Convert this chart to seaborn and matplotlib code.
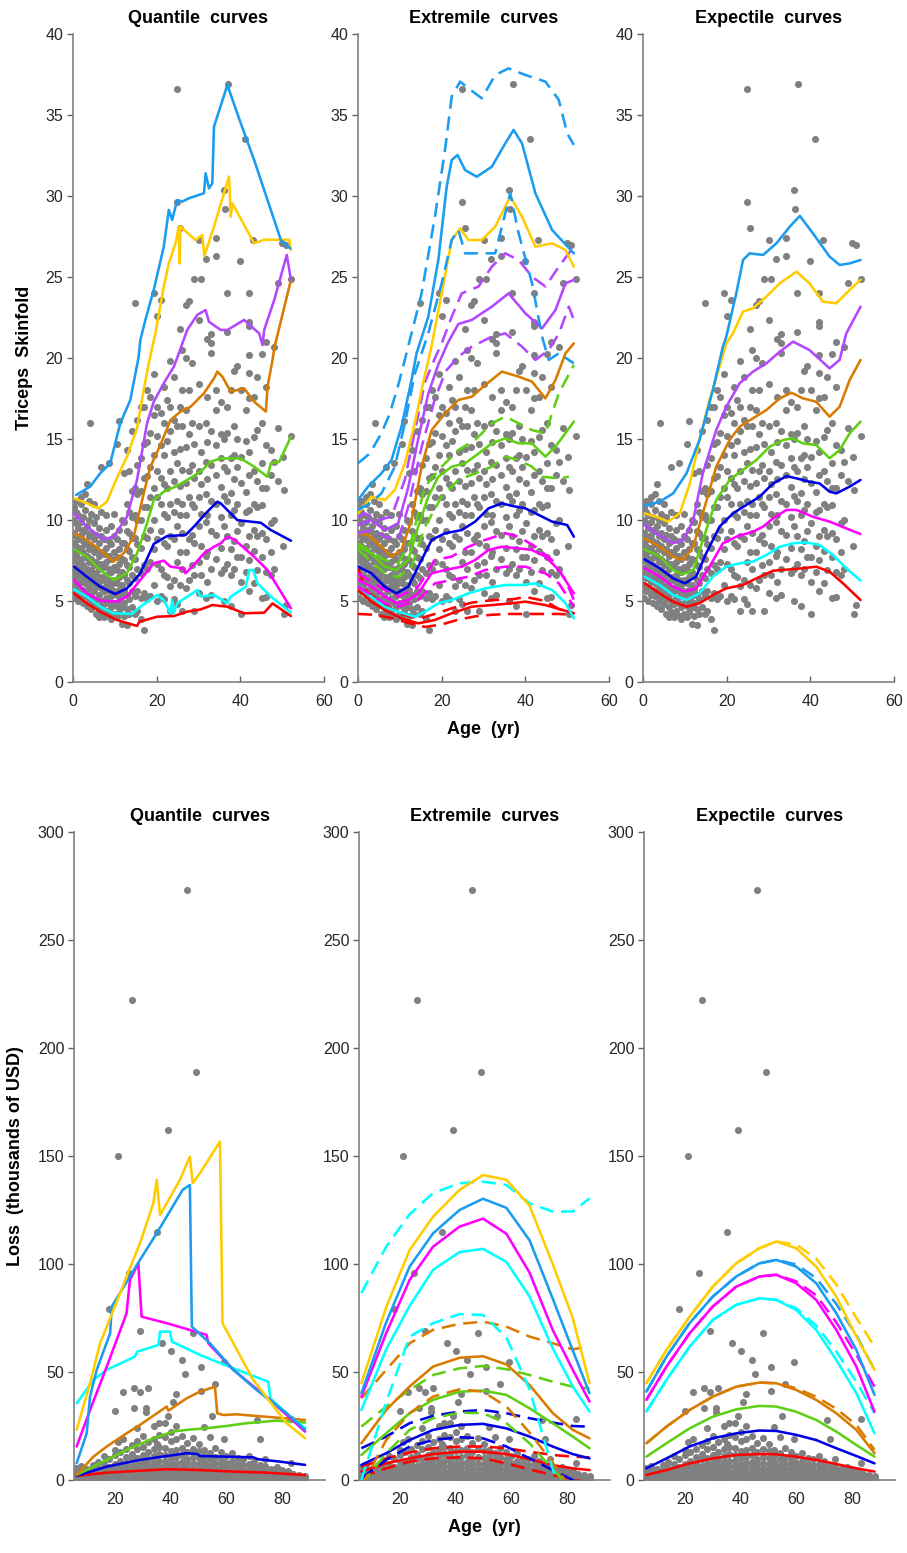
import numpy as np
import pandas as pd
import seaborn as sns
import matplotlib.pyplot as plt

# ---------------- scatter data ----------------
# triceps skinfold: one age per group, several skinfold values per age
tri_ages = [0.3, 0.8, 1.3, 1.8, 2.3, 2.8, 3.3, 3.8, 4.1, 4.4, 5.0, 5.6, 6.2, 6.8, 7.4, 8.0,
            8.6, 9.2, 9.8, 10.4, 11.0, 11.6, 12.2, 12.8, 13.4, 14.0, 14.8, 15.4, 16.2, 16.9,
            17.7, 18.5, 19.3, 20.1, 21.1, 21.7, 22.5, 23.3, 24.1, 24.9, 25.5, 26.1, 27.1,
            27.7, 28.5, 29.0, 30.1, 30.7, 31.7, 32.1, 33.0, 34.1, 35.3, 36.1, 36.3, 36.9,
            37.0, 37.7, 38.5, 39.3, 39.9, 40.1, 41.0, 41.3, 42.1, 43.0, 43.3, 44.1, 45.1,
            46.1, 47.3, 48.1, 48.9, 49.0, 49.9, 50.1, 50.5, 50.9, 52.1]
tri_skin = [
    [5.2, 6.0, 6.8, 7.5, 8.0, 8.6, 9.2, 10.0, 10.8],
    [5.6, 6.4, 7.1, 7.8, 8.4, 9.0, 9.8, 10.5, 11.2],
    [5.0, 5.9, 6.6, 7.3, 8.1, 8.8, 9.5, 10.3],
    [5.4, 6.2, 7.0, 7.6, 8.3, 9.1, 9.9, 11.0, 11.4],
    [4.9, 5.7, 6.5, 7.2, 8.0, 8.7, 9.4, 10.2],
    [5.3, 6.1, 6.9, 7.7, 8.5, 9.3, 10.6, 11.6],
    [4.7, 5.5, 6.3, 7.0, 7.8, 8.6, 9.6, 12.2],
    [5.0, 5.8, 6.6, 7.4, 8.2, 9.0, 10.0, 11.2],
    [16.0],
    [4.5, 5.3, 6.1, 6.9, 7.6, 8.4, 9.2, 10.4],
    [4.8, 5.6, 6.4, 7.2, 8.0, 8.8, 9.8, 11.0],
    [4.2, 5.1, 5.9, 6.7, 7.4, 8.2, 9.1, 10.2],
    [4.0, 4.6, 5.4, 6.2, 7.0, 7.8, 8.6, 9.5],
    [4.3, 5.0, 5.8, 6.5, 7.3, 8.0, 9.0, 10.5, 13.3],
    [4.0, 4.8, 5.6, 6.3, 7.1, 7.9, 8.8],
    [4.4, 5.2, 5.9, 6.6, 7.4, 8.3, 9.4, 10.3],
    [4.1, 4.9, 5.6, 6.3, 7.0, 7.8, 8.7, 13.5],
    [3.9, 4.6, 5.3, 6.0, 6.8, 7.6, 8.5, 9.6],
    [4.2, 4.9, 5.6, 6.3, 7.1, 8.0, 9.0, 10.4],
    [4.0, 4.7, 5.4, 6.1, 6.9, 7.7, 8.8, 14.7],
    [4.3, 5.0, 5.7, 6.5, 7.3, 8.2, 9.4, 16.1],
    [3.6, 4.6, 5.3, 6.0, 6.8, 7.6, 8.6, 10.0],
    [4.1, 4.9, 5.7, 6.6, 7.5, 8.6, 9.9, 12.9],
    [3.5, 4.5, 5.4, 6.3, 7.2, 8.2, 9.3, 11.0, 14.3],
    [4.2, 5.1, 6.1, 7.1, 8.1, 9.2, 10.5, 13.0],
    [4.6, 5.6, 6.6, 7.7, 8.9, 10.2, 11.8, 15.5],
    [4.2, 5.3, 6.4, 7.6, 8.9, 10.3, 12.0, 23.4],
    [4.4, 5.6, 7.0, 8.5, 10.0, 11.6, 13.4, 16.2],
    [3.9, 5.2, 6.7, 8.3, 10.0, 11.8, 13.8, 17.0],
    [3.2, 5.5, 7.2, 9.0, 10.8, 12.6, 14.7, 17.0],
    [5.1, 7.0, 8.9, 10.8, 12.7, 14.8, 18.0],
    [5.3, 7.4, 9.4, 11.4, 13.3, 15.4, 17.6],
    [6.0, 8.2, 10.0, 12.0, 14.0, 16.5, 19.0, 24.0],
    [5.0, 7.3, 8.8, 11.4, 13.0, 15.2, 17.0, 22.6],
    [5.3, 7.0, 9.3, 11.0, 12.6, 14.6, 16.6, 23.6],
    [5.1, 6.6, 8.6, 10.4, 12.2, 14.0, 16.0, 18.2],
    [6.5, 8.4, 10.2, 12.0, 14.9, 17.4],
    [4.4, 5.9, 9.0, 11.0, 13.0, 15.5, 19.8, 17.0],
    [5.1, 6.3, 8.8, 10.5, 12.4, 14.2, 16.2, 18.8],
    [4.8, 7.4, 9.6, 11.2, 13.5, 15.8, 29.6, 36.6],
    [6.0, 8.0, 10.3, 12.1, 14.4, 17.0, 28.0, 21.8],
    [4.4, 7.0, 9.2, 11.0, 13.1, 15.8, 20.5, 18.0],
    [5.8, 8.0, 10.3, 12.3, 14.5, 16.8, 23.3, 20.0],
    [6.3, 8.8, 11.4, 13.0, 15.3, 18.0, 23.5],
    [7.2, 9.1, 11.0, 13.4, 16.0, 19.7],
    [4.4, 6.6, 8.6, 10.8, 12.6, 14.7, 24.85],
    [5.5, 7.4, 9.6, 11.4, 13.0, 15.8, 18.4, 27.3, 22.35],
    [6.6, 8.4, 10.4, 12.2, 14.2, 24.85],
    [5.2, 7.8, 9.9, 11.6, 13.6, 16.0, 26.1],
    [6.2, 8.0, 10.3, 12.5, 14.8, 17.6, 21.2],
    [5.4, 7.0, 9.3, 11.2, 13.4, 15.5, 20.9, 21.5, 20.3],
    [7.6, 9.1, 11.0, 12.8, 14.6, 16.8, 18.0, 27.4, 26.3],
    [6.7, 8.3, 10.2, 12.05, 13.8, 15.3, 17.3],
    [5.0, 7.0, 9.6, 11.5, 13.3, 15.0, 30.4],
    [29.2],
    [7.3, 9.0, 11.2, 13.0, 15.35, 17.0, 21.6, 24.0],
    [36.9],
    [4.7, 6.6, 8.2, 10.3, 11.65, 13.8, 18.0],
    [7.0, 8.7, 10.6, 12.5, 14.0, 15.8, 19.2],
    [7.7, 9.3, 11.0, 13.3, 15.0, 19.5],
    [26.0],
    [4.2, 6.2, 7.7, 9.8, 12.27, 13.9, 18.0],
    [33.5],
    [6.8, 8.4, 10.5, 11.7, 14.9, 16.8],
    [5.6, 7.5, 9.0, 10.6, 12.8, 14.2, 17.5, 19.05, 20.2, 22.0, 22.2, 24.0],
    [27.3],
    [6.1, 8.1, 9.4, 11.0, 13.0, 15.1, 17.6],
    [6.9, 9.0, 10.8, 12.4, 15.55, 18.8],
    [5.2, 7.7, 9.2, 10.9, 12.0, 13.5, 16.0, 20.25],
    [5.26, 6.8, 8.8, 11.96, 14.6, 18.2, 21.0],
    [6.6, 8.0, 9.8, 12.8, 14.3],
    [7.0, 10.0, 13.6, 20.7],
    [12.4, 15.7],
    [24.65],
    [27.1],
    [8.4, 13.9],
    [4.2, 11.85],
    [4.75, 27.0],
    [15.2, 24.85],
]

# insurance loss (thousands of USD): one age per group, several losses per age
loss_ages = [6, 8, 10, 12, 14, 16, 18, 20, 21, 22, 23, 24, 25, 26, 27, 28, 29, 30, 31, 32,
             34, 35, 36, 37, 38, 39, 40, 41, 42, 44, 45, 46, 48, 49, 50, 51, 52, 54, 55, 56,
             58, 59, 60, 62, 64, 66, 68, 70, 71, 72, 74, 76, 78, 80, 82, 83, 84, 86, 88]
loss_vals = [
    [0.5, 1.5, 3.0, 5.5],
    [0.3, 1.2, 2.5, 4.0, 6.5],
    [0.4, 1.8, 3.5, 5.0],
    [0.6, 1.4, 2.8, 4.5, 7.0],
    [0.2, 1.0, 2.2, 3.8, 5.5, 8.5],
    [0.5, 1.6, 3.0, 4.8, 7.2, 11.0],
    [0.3, 1.3, 2.6, 4.2, 6.0, 9.5, 79.0],
    [0.6, 1.8, 3.4, 5.2, 7.5, 11.5, 14.0, 32.0],
    [150.0, 17.5],
    [0.4, 1.5, 2.9, 4.6, 6.8, 9.0, 13.0],
    [40.6, 19.0],
    [0.7, 2.0, 3.6, 5.5, 8.0, 10.5, 14.5],
    [96.0],
    [0.3, 1.2, 2.7, 4.4, 6.5, 9.5, 12.0, 16.0, 222.0],
    [42.4, 33.5],
    [0.5, 1.8, 3.3, 5.0, 7.2, 10.0, 14.5, 18.0, 24.0],
    [68.8, 40.6],
    [0.8, 2.2, 4.0, 6.0, 8.5, 11.5, 15.5, 20.5],
    [33.5, 31.6],
    [0.4, 1.5, 3.0, 4.8, 7.0, 9.5, 13.0, 17.5, 42.4],
    [0.6, 2.0, 3.8, 5.8, 8.2, 11.0, 14.5, 19.0, 25.0],
    [114.8, 16.5],
    [0.3, 1.4, 2.8, 4.5, 6.5, 9.0, 12.0, 15.5, 21.0, 26.5],
    [63.6],
    [0.7, 2.2, 4.2, 6.3, 8.8, 11.8, 15.0, 20.0, 26.5],
    [162.0, 29.8],
    [0.5, 1.6, 3.2, 5.2, 7.5, 10.2, 13.5, 18.0, 59.7, 22.0],
    [36.2],
    [0.4, 1.8, 3.6, 5.5, 8.0, 10.8, 14.0, 19.0, 40.0, 25.0],
    [0.6, 2.0, 3.8, 6.0, 8.5, 11.5, 15.0, 55.7, 20.5],
    [49.0],
    [0.3, 1.5, 3.0, 5.0, 7.2, 9.8, 13.0, 17.0, 273.0],
    [0.5, 1.9, 3.6, 5.6, 8.0, 10.8, 14.5, 68.0, 19.5],
    [189.0],
    [0.4, 1.7, 3.3, 5.2, 7.4, 10.0, 13.5, 16.5],
    [52.5, 41.0],
    [0.6, 2.0, 3.8, 5.8, 8.2, 11.0, 14.0, 24.5],
    [0.3, 1.5, 3.0, 4.8, 7.0, 9.5, 12.5, 20.0],
    [29.8],
    [0.5, 1.8, 3.5, 5.5, 7.8, 10.5, 44.3, 15.0],
    [0.4, 1.6, 3.2, 5.0, 7.2, 9.8, 13.0],
    [54.8, 19.0],
    [0.6, 1.9, 3.6, 5.6, 8.0, 11.0],
    [0.3, 1.4, 2.8, 4.5, 6.5, 9.0, 12.5],
    [0.5, 1.7, 3.3, 5.2, 7.4, 10.0],
    [0.4, 1.5, 3.0, 4.8, 6.8, 9.5],
    [0.6, 1.8, 3.4, 5.3, 7.6, 11.0],
    [0.3, 1.4, 2.8, 4.4, 6.3, 9.0],
    [27.8],
    [0.5, 1.6, 3.1, 4.9, 7.0, 18.8],
    [0.4, 1.5, 2.9, 4.6, 6.5, 9.5],
    [0.6, 1.7, 3.2, 5.0],
    [0.3, 1.3, 2.6, 4.2, 6.0],
    [0.5, 1.6, 3.0, 4.6],
    [0.4, 1.4, 2.7, 4.3],
    [28.2, 8.0],
    [0.6, 1.5, 3.0],
    [0.3, 1.2, 2.5],
    [0.5, 1.8],
]

# ---------------- top row curves: triceps skinfold ----------------
# quantile curves
tq_red_age = [0.24, 3.3, 6.5, 10.5, 15.3, 15.9, 20.1, 24.1, 27.3, 30.5, 33.3, 36.9, 40.9, 45.7, 47.7, 52.1]
tq_red_val = [5.47, 4.85, 4.34, 3.83, 3.46, 3.72, 4.03, 4.07, 4.34, 4.48, 4.75, 4.65, 4.24, 4.28, 4.85, 4.07]
tq_cyan_age = [0.24, 3.3, 6.5, 9.7, 14.1, 16.1, 20.1, 21.7, 23.3, 23.7, 24.1, 24.9, 28.5, 29.7, 30.5,
               33.7, 36.9, 37.7, 41.3, 42.1, 43.1, 44.1, 47.3, 52.1]
tq_cyan_val = [5.72, 5.27, 4.65, 4.24, 4.2, 4.65, 5.37, 5.06, 4.24, 5.06, 4.24, 4.86, 5.47, 5.68, 5.27,
               5.37, 4.86, 5.27, 5.88, 6.91, 6.91, 6.09, 5.27, 4.28]
tq_mag_age = [0.24, 3.3, 6.5, 10.5, 12.9, 16.1, 19.3, 21.7, 23.3, 26.5, 26.9, 28.5, 31.3, 33.7, 35.3,
              36.9, 38.5, 43.3, 46.5, 52.1]
tq_mag_val = [6.3, 5.47, 5.02, 4.96, 5.27, 6.3, 7.32, 7.49, 7.12, 7.0, 6.71, 7.12, 7.94, 8.35, 8.56,
              8.97, 8.81, 7.73, 6.91, 4.55]
tq_blue_age = [0.24, 3.3, 6.5, 10.1, 12.9, 16.1, 19.3, 20.9, 22.5, 26.9, 28.9, 32.1, 34.5, 35.3, 38.5,
               39.3, 44.9, 47.3, 52.1]
tq_blue_val = [7.12, 6.5, 5.88, 5.43, 5.78, 6.71, 8.52, 8.77, 9.01, 9.07, 9.59, 10.51, 11.13, 11.03, 10.2,
               9.99, 9.83, 9.38, 8.72]
tq_green_age = [0.24, 3.3, 6.5, 9.7, 12.9, 15.3, 17.7, 19.3, 21.7, 24.5, 27.3, 30.5, 32.9, 35.3, 40.1,
                43.3, 46.5, 47.3, 49.3, 52.1]
tq_green_val = [8.19, 7.74, 6.91, 6.3, 6.71, 7.94, 9.79, 11.23, 11.75, 12.06, 12.47, 12.98, 13.6, 13.8, 13.8,
                13.29, 12.67, 13.5, 13.6, 15.14]
tq_orange_age = [0.24, 3.3, 6.5, 9.7, 12.1, 14.5, 16.9, 18.5, 20.9, 23.3, 25.7, 28.1, 31.3, 33.7, 34.5,
                 35.7, 37.7, 40.9, 43.3, 46.1, 46.5, 47.7, 48.1, 52.1]
tq_orange_val = [9.18, 8.77, 8.15, 7.43, 7.94, 8.97, 11.64, 13.29, 14.63, 16.17, 16.69, 16.99, 17.82, 18.74, 19.16,
                 18.85, 17.92, 18.13, 17.3, 16.69, 18.23, 19.88, 20.6, 24.82]
tq_purple_age = [0.24, 3.3, 7.3, 9.7, 12.9, 15.3, 17.7, 19.3, 21.7, 24.1, 25.3, 27.3, 29.7, 31.7, 32.5,
                 35.3, 36.9, 40.9, 44.5, 45.3, 45.7, 48.1, 51.1, 52.1]
tq_purple_val = [10.41, 9.59, 8.81, 8.97, 10.2, 12.47, 15.97, 17.3, 18.44, 19.46, 20.29, 21.73, 22.66, 22.96, 22.24,
                 21.73, 21.73, 22.35, 21.52, 20.8, 21.73, 23.58, 26.36, 24.82]
tq_yellow_age = [0.24, 3.3, 6.1, 8.1, 10.1, 12.9, 15.3, 16.9, 18.1, 19.7, 21.7, 22.9, 24.5, 25.3, 25.5,
                 25.7, 29.3, 30.9, 31.4, 33.7, 37.3, 37.7, 38.1, 43.3, 45.7, 51.7, 52.1]
tq_yellow_val = [11.34, 11.03, 10.72, 11.13, 12.36, 13.91, 15.66, 18.02, 19.67, 21.52, 24.4, 25.84, 27.08, 28.11, 25.84,
                 28.11, 27.28, 27.59, 26.3, 28.11, 31.2, 28.73, 29.55, 27.08, 27.3, 27.3, 26.67]
tq_sky_age = [0.72, 4.1, 6.5, 8.9, 11.3, 13.7, 15.7, 16.1, 17.3, 19.3, 21.7, 22.9, 23.7, 24.9, 26.1,
              27.7, 31.3, 31.7, 32.5, 33.3, 33.7, 36.9, 40.1, 43.3, 49.7, 51.9]
tq_sky_val = [11.54, 12.06, 12.88, 13.5, 15.97, 17.41, 20.08, 21.11, 22.35, 24.2, 26.87, 29.14, 28.52, 29.75, 29.65,
              29.86, 30.17, 31.4, 30.47, 30.78, 34.28, 36.85, 34.49, 32.22, 27.28, 26.77]

# extremile curves (solid) and their dashed companions
te_red_age = [0, 3.2, 6.4, 10.4, 14.4, 18.4, 22.4, 27.2, 32.0, 36.8, 40.0, 44.8, 51.6]
te_red_val = [5.68, 4.96, 4.44, 3.93, 3.62, 3.83, 4.24, 4.65, 4.75, 4.86, 4.96, 4.75, 4.24]
te_red_hi_age = [0, 2.0, 6.4, 10.4, 14.4, 18.4, 22.4, 27.2, 32.0, 36.8, 40.0, 44.8, 48.0, 51.6]
te_red_hi_val = [7.0, 5.6, 4.75, 4.2, 3.9, 4.2, 4.55, 4.9, 5.05, 5.1, 5.25, 5.0, 4.5, 4.24]
te_red_lo_age = [0, 4, 8, 12, 16, 20, 24, 28, 32, 36, 40, 44, 48, 51.6]
te_red_lo_val = [4.2, 4.15, 3.95, 3.65, 3.4, 3.55, 3.85, 4.05, 4.15, 4.2, 4.2, 4.2, 4.2, 4.15]
te_cyan_age = [0, 3.2, 6.4, 9.6, 13.6, 16.0, 19.2, 22.4, 26.4, 30.4, 35.2, 39.2, 42.4, 46.4, 49.6, 51.6]
te_cyan_val = [5.88, 5.27, 4.65, 4.34, 4.03, 4.34, 4.86, 5.06, 5.47, 5.78, 5.99, 5.99, 6.09, 5.68, 4.86, 3.93]
te_mag_age = [0, 3.2, 6.4, 9.2, 12.0, 14.4, 17.6, 20.8, 24.8, 28.0, 31.2, 34.4, 38.4, 41.6, 44.8, 48.0, 51.6]
te_mag_val = [6.3, 5.88, 5.27, 4.86, 5.06, 5.47, 6.71, 6.91, 7.12, 7.53, 8.15, 8.35, 8.25, 8.15, 7.74, 6.91, 5.47]
te_mag_hi_age = [0, 6.4, 9.6, 14.4, 18.4, 22.4, 26.4, 30.4, 35.2, 38.4, 42.4, 46.4, 49.6, 51.6]
te_mag_hi_val = [6.71, 5.68, 5.27, 5.88, 7.53, 7.74, 8.35, 8.77, 9.18, 8.97, 8.35, 7.53, 6.3, 5.06]
te_mag_lo_age = [0, 6.4, 9.6, 14.4, 18.4, 22.4, 26.4, 30.4, 35.2, 40.0, 44.8, 48.0, 51.6]
te_mag_lo_val = [5.88, 4.86, 4.65, 5.06, 6.09, 6.3, 6.5, 6.91, 7.12, 7.12, 6.71, 6.09, 4.65]
te_blue_age = [0, 3.2, 6.4, 9.2, 12.0, 14.4, 17.6, 20.8, 24.8, 28.0, 31.2, 34.4, 36.8, 40.0, 43.2, 46.4, 50.0, 51.6]
te_blue_val = [7.12, 6.71, 5.88, 5.47, 5.88, 7.12, 8.77, 9.18, 9.38, 9.9, 10.72, 11.03, 10.87, 10.72, 10.31, 9.9, 9.69, 8.97]
te_green_age = [0, 3.2, 6.4, 9.2, 12.0, 14.4, 16.8, 19.2, 22.4, 25.6, 28.8, 32.0, 35.2, 38.4, 41.6, 44.8, 47.2, 51.6]
te_green_val = [8.35, 7.94, 7.12, 6.91, 7.53, 9.59, 11.44, 12.67, 13.29, 13.5, 14.1, 14.73, 15.04, 14.73, 14.73, 13.91, 14.53, 16.07]
te_green_hi_age = [0, 6.4, 9.6, 12.8, 16.0, 20.0, 24.0, 28.0, 32.0, 35.2, 38.4, 41.6, 44.8, 48.0, 51.6]
te_green_hi_val = [8.56, 7.53, 7.32, 8.77, 12.06, 13.29, 14.32, 14.94, 15.97, 16.38, 15.97, 15.55, 15.35, 17.82, 19.57]
te_green_lo_age = [0, 6.4, 9.6, 12.8, 16.0, 20.0, 24.0, 28.0, 32.0, 35.2, 38.4, 41.6, 44.0, 48.0, 50.4]
te_green_lo_val = [8.15, 6.71, 6.46, 7.12, 9.59, 11.44, 12.47, 12.88, 13.29, 13.91, 13.7, 13.29, 12.67, 12.57, 12.67]
te_orange_age = [0, 2.4, 5.6, 8.0, 10.4, 12.8, 15.2, 17.6, 20.8, 24.0, 27.2, 30.4, 34.4, 38.4, 41.6, 44.8, 47.2, 49.6, 51.6]
te_orange_val = [9.18, 9.07, 8.35, 7.74, 8.15, 9.99, 13.29, 15.55, 16.58, 17.41, 17.61, 18.33, 19.16, 18.85, 18.54, 17.51, 18.64, 20.29, 20.9]
te_purple_age = [0, 3.2, 6.4, 9.6, 12.0, 14.4, 16.8, 19.2, 21.6, 24.0, 27.2, 32.0, 36.0, 40.0, 44.0, 47.2, 49.6, 51.6]
te_purple_val = [9.69, 10.0, 9.38, 9.79, 12.0, 15.0, 17.8, 19.6, 21.0, 22.1, 22.35, 23.17, 23.99, 22.76, 21.83, 22.96, 24.61, 24.82]
te_purple_hi_age = [0, 1.6, 4.8, 8.0, 11.2, 13.6, 16.0, 18.4, 20.0, 22.4, 24.8, 28.8, 32.0, 35.2, 38.4, 41.6, 44.8, 48.0, 51.6]
te_purple_hi_val = [10.2, 10.41, 10.0, 10.2, 12.5, 15.5, 18.5, 20.0, 20.9, 22.55, 23.99, 24.41, 25.64, 26.46, 26.05, 25.02, 24.41, 25.64, 26.87]
te_purple_lo_age = [0, 3.2, 6.4, 9.6, 12.0, 15.2, 18.4, 21.0, 24.0, 27.2, 32.0, 35.2, 39.2, 42.4, 45.6, 48.0, 50.4, 51.6]
te_purple_lo_val = [9.18, 9.38, 8.97, 8.77, 10.8, 14.5, 17.5, 19.2, 20.08, 20.7, 21.32, 21.52, 20.7, 19.88, 20.49, 21.5, 23.17, 22.35]
te_yellow_age = [0, 3.2, 6.4, 8.8, 11.2, 13.6, 15.6, 17.4, 20.0, 22.4, 24.4, 26.4, 29.6, 32.8, 36.4, 39.2, 42.4, 46.4, 49.6, 51.6]
te_yellow_val = [10.41, 11.44, 11.23, 11.85, 13.5, 16.0, 18.5, 20.5, 23.99, 27.28, 28.0, 27.28, 27.28, 28.11, 29.96, 28.73, 26.87, 27.08, 26.67, 25.64]
te_sky_age = [0, 2.4, 5.6, 8.0, 10.4, 12.8, 14.0, 16.8, 19.2, 21.2, 22.4, 23.8, 25.6, 28.4, 32.0, 35.2, 37.2, 39.2, 42.4, 46.4, 51.6]
te_sky_val = [11.23, 12.06, 12.88, 13.7, 15.76, 18.64, 20.29, 22.55, 26.05, 30.58, 32.22, 32.53, 31.6, 31.19, 31.81, 33.25, 34.08, 33.25, 30.17, 27.9, 26.46]
te_sky_hi_age = [0, 2.8, 5.6, 7.6, 9.6, 11.6, 15.2, 18.4, 20.8, 22.4, 24.4, 26.4, 29.6, 32.8, 36.0, 40.0, 44.8, 48.0, 50.0, 51.6]
te_sky_hi_val = [13.5, 14.1, 15.35, 16.58, 18.3, 20.3, 23.99, 28.73, 32.84, 36.13, 37.06, 36.65, 36.03, 37.47, 37.88, 37.47, 37.06, 35.93, 33.87, 33.15]
te_sky_lo_age = [0, 2.8, 5.6, 8.8, 11.2, 13.6, 16.8, 20.0, 22.4, 24.0, 25.6, 28.0, 32.8, 34.4, 36.4, 38.4, 41.6, 44.0, 45.6, 48.0, 51.6]
te_sky_lo_val = [10.62, 11.03, 11.64, 13.29, 15.97, 19.05, 21.52, 24.61, 27.28, 27.9, 26.46, 26.46, 26.46, 28.11, 30.17, 27.7, 24.61, 21.32, 19.88, 20.29, 19.67]

# expectile curves
tx_red_age = [0.4, 4.0, 7.2, 10.4, 13.5, 16.7, 19.9, 23.9, 27.1, 31.1, 35.1, 38.2, 41.4, 44.6, 47.8, 52.0]
tx_red_val = [6.09, 5.47, 4.96, 4.65, 4.86, 5.37, 5.78, 5.99, 6.4, 6.87, 6.95, 7.02, 7.12, 6.81, 6.09, 5.06]
tx_cyan_age = [0.4, 4.0, 7.2, 10.4, 13.5, 16.7, 19.9, 23.1, 26.3, 29.5, 32.7, 35.9, 39.0, 42.2, 45.4, 48.6, 52.0]
tx_cyan_val = [6.5, 5.99, 5.37, 5.06, 5.47, 6.5, 7.12, 7.33, 7.43, 7.84, 8.35, 8.56, 8.62, 8.46, 7.84, 7.02, 6.26]
tx_mag_age = [0.4, 4.0, 7.2, 10.0, 12.7, 15.9, 19.1, 22.3, 26.3, 28.7, 31.1, 34.3, 36.7, 40.6, 44.6, 48.6, 52.0]
tx_mag_val = [7.02, 6.5, 5.88, 5.58, 5.78, 7.12, 8.56, 8.97, 9.28, 9.59, 10.1, 10.62, 10.62, 10.2, 9.9, 9.48, 9.13]
tx_blue_age = [0.4, 4.0, 7.2, 10.0, 12.7, 15.1, 18.3, 21.5, 24.7, 27.9, 31.1, 34.3, 36.7, 39.8, 42.2, 44.6, 46.2, 49.4, 52.0]
tx_blue_val = [7.57, 7.02, 6.4, 6.09, 6.5, 7.94, 9.59, 10.41, 10.93, 11.44, 12.26, 12.71, 12.57, 12.36, 12.26, 11.75, 11.64, 12.06, 12.47]
tx_green_age = [0.4, 4.0, 7.2, 9.6, 12.0, 14.3, 17.5, 20.7, 23.9, 27.1, 30.3, 33.5, 35.9, 38.2, 41.4, 44.6, 47.0, 49.4, 52.0]
tx_green_val = [8.19, 7.74, 6.91, 6.65, 6.91, 8.76, 11.23, 12.47, 13.09, 13.7, 14.53, 14.94, 15.04, 14.73, 14.63, 13.81, 14.32, 15.35, 16.07]
tx_orange_age = [0.4, 4.0, 7.2, 9.6, 12.0, 14.3, 17.5, 20.7, 23.1, 26.3, 29.5, 32.7, 35.5, 38.2, 41.4, 44.6, 47.0, 49.4, 52.0]
tx_orange_val = [8.87, 8.35, 7.74, 7.53, 8.35, 10.41, 13.29, 14.94, 15.76, 16.28, 16.79, 17.51, 17.86, 17.51, 17.3, 16.38, 16.99, 18.64, 19.88]
tx_purple_age = [0.4, 3.2, 7.2, 9.6, 12.0, 14.3, 17.5, 19.9, 23.1, 26.3, 29.5, 32.7, 35.9, 39.8, 44.6, 47.0, 48.6, 52.0]
tx_purple_val = [9.69, 9.18, 8.56, 8.77, 9.99, 12.88, 15.55, 16.99, 18.44, 19.16, 19.67, 20.39, 21.01, 20.49, 19.36, 19.88, 21.52, 23.17]
tx_yellow_age = [0.4, 3.2, 6.0, 8.8, 11.2, 13.5, 15.9, 18.3, 19.9, 21.5, 23.9, 26.3, 29.5, 32.7, 36.7, 39.8, 43.0, 46.2, 49.4, 52.0]
tx_yellow_val = [10.41, 10.2, 9.9, 10.41, 12.26, 14.94, 17.41, 19.46, 20.9, 21.52, 22.86, 23.07, 23.79, 24.61, 25.33, 24.61, 23.48, 23.38, 24.2, 24.82]
tx_sky_age = [0.4, 4.0, 7.2, 10.4, 13.5, 16.7, 19.1, 19.9, 22.3, 23.9, 25.5, 28.7, 31.9, 35.1, 37.5, 40.6, 44.6, 47.0, 49.4, 52.0]
tx_sky_val = [10.88, 11.13, 11.64, 12.88, 14.94, 18.02, 20.7, 21.3, 23.99, 26.05, 26.46, 26.36, 27.08, 28.11, 28.77, 27.7, 26.26, 25.74, 25.84, 26.05]

# ---------------- bottom row curves: loss ----------------
bq_red_age = [6.3, 17.1, 29.0, 38.6, 50.5, 62.5, 74.4, 88.2]
bq_red_val = [1.9, 3.4, 4.3, 5.0, 4.6, 3.9, 3.4, 2.3]
bq_blue_age = [6.3, 17.1, 29.0, 38.6, 45.7, 49.3, 50.5, 60.1, 69.6, 71.4, 79.2, 88.2]
bq_blue_val = [1.9, 6.2, 9.3, 11.1, 12.4, 12.1, 11.1, 10.8, 10.5, 9.6, 8.5, 7.0]
bq_green_age = [6.3, 14.7, 24.2, 33.8, 40.9, 45.7, 52.9, 60.1, 67.2, 78.0, 88.2]
bq_green_val = [2.3, 7.8, 13.9, 19.3, 22.4, 23.2, 24.0, 25.0, 26.3, 27.5, 26.6]
bq_orange_age = [6.3, 12.3, 17.1, 24.2, 29.0, 38.6, 39.2, 45.7, 50.5, 55.9, 56.7, 58.9, 63.7, 88.2]
bq_orange_val = [2.3, 10.8, 15.5, 21.6, 25.5, 34.0, 32.1, 37.8, 40.9, 43.2, 30.9, 30.1, 30.4, 27.8]
bq_cyan_age = [6.3, 12.3, 17.1, 27.2, 28.0, 35.6, 36.2, 39.8, 40.4, 50.5, 62.5, 75.0, 75.8, 82.8, 88.2]
bq_cyan_val = [35.5, 46.3, 51.0, 57.1, 59.4, 62.5, 68.7, 68.7, 64.1, 57.9, 51.7, 45.5, 37.8, 29.4, 24.0]
bq_mag_age = [6.3, 11.1, 17.1, 24.2, 25.4, 28.4, 29.6, 38.6, 52.9, 53.5, 62.5, 75.6, 88.2]
bq_mag_val = [15.5, 32.4, 52.5, 77.2, 92.6, 100.3, 75.6, 72.6, 67.2, 63.3, 51.0, 37.1, 22.4]
bq_sky_age = [6.3, 9.9, 11.1, 13.5, 18.3, 18.9, 21.8, 29.0, 35.0, 44.3, 46.9, 47.6, 54.1, 62.5, 70.8, 81.6, 88.2]
bq_sky_val = [7.8, 21.6, 38.6, 51.0, 67.9, 80.3, 86.5, 101.9, 114.2, 134.3, 136.6, 71.0, 63.3, 51.0, 41.7, 30.9, 23.2]
bq_yellow_age = [6.3, 11.1, 14.7, 19.5, 24.2, 29.0, 33.8, 35.0, 36.2, 38.6, 43.3, 46.9, 47.9, 50.5, 57.7, 58.6,
                 69.6, 81.6, 88.2]
bq_yellow_val = [23.2, 44.8, 63.3, 78.7, 94.2, 109.6, 128.1, 138.9, 122.7, 128.1, 138.9, 149.7, 137.4, 142.0, 156.7, 72.6,
                 46.3, 26.3, 19.3]

be_age = [6.2, 15.1, 23.5, 31.9, 41.4, 49.8, 58.2, 66.5, 74.8, 82.0, 88.0]
be_red_val = [3.9, 7.7, 10.0, 12.0, 13.1, 13.1, 12.0, 9.6, 6.9, 5.4, 4.6]
be_red_hi_val = [6.2, 10.0, 12.7, 14.7, 15.5, 15.5, 14.7, 13.1, 11.6, 10.8, 10.5]
be_red_lo_val = [1.5, 5.4, 8.5, 10.0, 10.5, 10.0, 7.7, 4.9, 2.3, 0.0, -1.0]
be_blue_val = [7.0, 12.4, 18.5, 23.2, 25.5, 26.0, 23.9, 20.1, 15.5, 12.0, 10.0]
be_blue_hi_val = [14.7, 20.1, 26.3, 29.7, 31.7, 32.4, 30.9, 28.6, 26.6, 25.0, 24.7]
be_blue_lo_val = [0.8, 9.3, 15.5, 18.5, 19.8, 19.3, 15.5, 10.0, 4.6, 0.0, -2.0]
be_green_val = [11.6, 21.6, 30.9, 37.1, 40.9, 41.4, 39.4, 33.2, 26.3, 20.1, 14.7]
be_green_hi_val = [24.7, 34.0, 41.7, 48.6, 51.7, 52.8, 51.3, 48.6, 45.5, 43.2, 42.4]
be_green_lo_val = [-2.0, 12.4, 23.2, 28.6, 31.2, 30.9, 26.3, 17.0, 5.0, -5.0, -10.0]
be_orange_val = [17.0, 32.4, 43.3, 52.5, 56.6, 57.3, 53.5, 44.0, 31.0, 23.2, 19.3]
be_orange_hi_val = [37.8, 51.0, 63.3, 69.5, 72.3, 73.3, 71.0, 66.4, 63.3, 60.5, 61.8]
be_orange_lo_val = [-3.0, 18.5, 30.9, 38.6, 42.0, 40.9, 34.0, 22.0, 8.0, -5.0, -10.0]
be_cyan_val = [32.4, 60.5, 80.6, 97.3, 105.5, 107.0, 101.0, 85.0, 61.0, 43.3, 31.7]
be_cyan_hi_val = [86.5, 108.0, 123.0, 132.8, 137.4, 138.1, 136.6, 128.1, 124.3, 124.3, 130.4]
be_cyan_lo_val = [0.0, 36.0, 66.4, 72.6, 76.8, 76.4, 66.0, 42.0, 5.0, -20.0, -30.0]
be_mag_val = [38.6, 68.0, 92.6, 108.0, 117.3, 121.0, 114.0, 96.0, 69.5, 51.0, 36.3]
be_sky_val = [40.2, 73.0, 98.8, 114.2, 125.0, 130.2, 126.0, 111.0, 84.0, 60.0, 40.2]
be_yellow_val = [44.8, 80.0, 106.5, 121.9, 134.3, 141.2, 139.0, 127.0, 100.0, 75.0, 44.8]

bx_age = [6.2, 13.4, 21.7, 30.0, 38.4, 46.7, 52.8, 59.9, 67.1, 74.3, 81.5, 88.0]
bx_red_val = [2.3, 4.6, 7.7, 10.0, 11.6, 12.0, 11.9, 10.8, 9.3, 7.4, 5.4, 3.9]
bx_blue_val = [5.4, 10.0, 15.5, 19.3, 21.6, 22.9, 22.7, 20.9, 18.5, 14.7, 11.1, 7.7]
bx_green_val = [10.8, 17.0, 23.9, 29.3, 32.7, 34.3, 34.0, 31.6, 27.8, 22.4, 16.2, 10.8]
bx_orange_val = [17.0, 24.7, 32.4, 38.6, 43.2, 45.1, 44.8, 41.7, 37.1, 30.9, 23.2, 12.4]
bx_cyan_val = [31.7, 46.3, 61.7, 74.1, 81.1, 84.1, 83.4, 78.7, 69.5, 55.6, 40.2, 21.6]
bx_mag_val = [37.1, 52.5, 67.9, 80.3, 89.5, 94.2, 95.0, 91.1, 83.4, 69.5, 52.5, 31.6]
bx_sky_val = [40.9, 57.1, 72.6, 84.9, 94.2, 100.3, 101.9, 98.8, 91.1, 77.2, 60.2, 39.4]
bx_yellow_val = [44.8, 60.2, 75.6, 89.5, 100.3, 107.3, 110.4, 107.3, 98.8, 84.9, 66.4, 51.0]
# dashed companions that drift apart on the right
bx_orange_dash = [17.0, 24.7, 32.4, 38.6, 43.2, 45.1, 44.8, 42.5, 38.5, 33.0, 25.5, 14.0]
bx_cyan_dash = [31.7, 46.3, 61.7, 74.1, 81.1, 84.1, 83.4, 79.5, 71.5, 59.5, 45.5, 30.9]
bx_mag_dash = [37.1, 52.5, 67.9, 80.3, 89.5, 94.2, 95.0, 92.0, 85.5, 73.0, 58.0, 43.2]
bx_sky_dash = [40.9, 57.1, 72.6, 84.9, 94.2, 100.3, 101.9, 99.8, 93.5, 81.5, 67.0, 51.0]
bx_yellow_dash = [44.8, 60.2, 75.6, 89.5, 100.3, 107.3, 110.4, 109.0, 102.5, 90.5, 75.0, 61.8]

# ---------------- styling ----------------
RED, CYAN, MAG, BLUE = "#ff0000", "#00ffff", "#ff00ff", "#0000e6"
GREEN, ORANGE, PURPLE = "#5fcf13", "#d97b00", "#b347ff"
YELLOW, SKY = "#ffcc00", "#1a9cf0"
DASH = (0, (5.5, 3))
LW = 1.85

sns.set_theme(style="ticks")
plt.rcParams["font.family"] = ["Liberation Sans", "DejaVu Sans"]
plt.rcParams["text.color"] = "black"
plt.rcParams["axes.labelcolor"] = "black"

tri_df = pd.DataFrame({"age": np.repeat(tri_ages, [len(v) for v in tri_skin]),
                       "skin": np.concatenate(tri_skin)})
loss_df = pd.DataFrame({"age": np.repeat(loss_ages, [len(v) for v in loss_vals]),
                        "loss": np.concatenate(loss_vals)})

fig = plt.figure(figsize=(9.07, 15.53), dpi=100)
W, H = 907, 1553
lefts = [73, 358, 643]
top_axes = [fig.add_axes([l / W, (H - 682) / H, 251 / W, 648 / H]) for l in lefts]
bot_axes = [fig.add_axes([(l + 1) / W, (H - 1480) / H, 251 / W, 648 / H]) for l in lefts]


def curve(ax, ages, vals, color, dashed=False):
    sns.lineplot(x=ages, y=vals, ax=ax, color=color, lw=LW, sort=False, estimator=None,
                 linestyle=DASH if dashed else "-", zorder=3)


def style(ax, xlim, xticks, ylim, yticks):
    ax.set_xlim(*xlim)
    ax.set_ylim(*ylim)
    ax.set_xticks(xticks)
    ax.set_yticks(yticks)
    ax.set_xlabel("")
    ax.set_ylabel("")
    sns.despine(ax=ax)
    for s in ["left", "bottom"]:
        ax.spines[s].set_color("#808080")
        ax.spines[s].set_linewidth(1.2)
    ax.tick_params(axis="y", direction="out", length=4, width=1, color="#606060",
                   labelsize=11.5, pad=3, labelcolor="#262626")
    ax.tick_params(axis="x", direction="in", length=4, width=1, color="#606060",
                   labelsize=11.5, pad=9, labelcolor="#262626")


titles = ["Quantile  curves", "Extremile  curves", "Expectile  curves"]

# ---- top row ----
for ax in top_axes:
    sns.scatterplot(data=tri_df, x="age", y="skin", ax=ax, color="#808080", s=26,
                    linewidth=0, zorder=2)

ax = top_axes[0]
for a, v, c in [(tq_red_age, tq_red_val, RED), (tq_cyan_age, tq_cyan_val, CYAN),
                (tq_mag_age, tq_mag_val, MAG), (tq_blue_age, tq_blue_val, BLUE),
                (tq_green_age, tq_green_val, GREEN), (tq_orange_age, tq_orange_val, ORANGE),
                (tq_purple_age, tq_purple_val, PURPLE), (tq_yellow_age, tq_yellow_val, YELLOW),
                (tq_sky_age, tq_sky_val, SKY)]:
    curve(ax, a, v, c)

ax = top_axes[1]
for a, v, c, d in [(te_red_hi_age, te_red_hi_val, RED, True), (te_red_lo_age, te_red_lo_val, RED, True),
                   (te_red_age, te_red_val, RED, False), (te_cyan_age, te_cyan_val, CYAN, False),
                   (te_mag_hi_age, te_mag_hi_val, MAG, True), (te_mag_lo_age, te_mag_lo_val, MAG, True),
                   (te_mag_age, te_mag_val, MAG, False), (te_blue_age, te_blue_val, BLUE, False),
                   (te_green_hi_age, te_green_hi_val, GREEN, True), (te_green_lo_age, te_green_lo_val, GREEN, True),
                   (te_green_age, te_green_val, GREEN, False), (te_orange_age, te_orange_val, ORANGE, False),
                   (te_purple_hi_age, te_purple_hi_val, PURPLE, True), (te_purple_lo_age, te_purple_lo_val, PURPLE, True),
                   (te_purple_age, te_purple_val, PURPLE, False), (te_yellow_age, te_yellow_val, YELLOW, False),
                   (te_sky_hi_age, te_sky_hi_val, SKY, True), (te_sky_lo_age, te_sky_lo_val, SKY, True),
                   (te_sky_age, te_sky_val, SKY, False)]:
    curve(ax, a, v, c, d)

ax = top_axes[2]
for a, v, c in [(tx_red_age, tx_red_val, RED), (tx_cyan_age, tx_cyan_val, CYAN),
                (tx_mag_age, tx_mag_val, MAG), (tx_blue_age, tx_blue_val, BLUE),
                (tx_green_age, tx_green_val, GREEN), (tx_orange_age, tx_orange_val, ORANGE),
                (tx_purple_age, tx_purple_val, PURPLE), (tx_yellow_age, tx_yellow_val, YELLOW),
                (tx_sky_age, tx_sky_val, SKY)]:
    curve(ax, a, v, c)

for ax, t in zip(top_axes, titles):
    style(ax, (0, 60), [0, 20, 40, 60], (0, 40), range(0, 41, 5))
    ax.set_title(t, fontsize=13, fontweight="bold", pad=8, color="black")
top_axes[0].set_ylabel("Triceps  Skinfold", fontsize=13, fontweight="bold")
top_axes[0].yaxis.set_label_coords(-0.16, 0.5)
top_axes[1].set_xlabel("Age  (yr)", fontsize=13, fontweight="bold", labelpad=8)

# ---- bottom row ----
for ax in bot_axes:
    sns.scatterplot(data=loss_df, x="age", y="loss", ax=ax, color="#808080", s=26,
                    linewidth=0, zorder=2)

ax = bot_axes[0]
for a, v, c in [(bq_red_age, bq_red_val, RED), (bq_blue_age, bq_blue_val, BLUE),
                (bq_green_age, bq_green_val, GREEN), (bq_orange_age, bq_orange_val, ORANGE),
                (bq_cyan_age, bq_cyan_val, CYAN), (bq_mag_age, bq_mag_val, MAG),
                (bq_sky_age, bq_sky_val, SKY), (bq_yellow_age, bq_yellow_val, YELLOW)]:
    curve(ax, a, v, c)

ax = bot_axes[1]
for v, c, d in [(be_red_hi_val, RED, True), (be_red_lo_val, RED, True), (be_red_val, RED, False),
                (be_blue_hi_val, BLUE, True), (be_blue_lo_val, BLUE, True), (be_blue_val, BLUE, False),
                (be_green_hi_val, GREEN, True), (be_green_lo_val, GREEN, True), (be_green_val, GREEN, False),
                (be_orange_hi_val, ORANGE, True), (be_orange_lo_val, ORANGE, True), (be_orange_val, ORANGE, False),
                (be_cyan_hi_val, CYAN, True), (be_cyan_lo_val, CYAN, True), (be_cyan_val, CYAN, False),
                (be_mag_val, MAG, False), (be_sky_val, SKY, False), (be_yellow_val, YELLOW, False)]:
    curve(ax, be_age, v, c, d)

ax = bot_axes[2]
for v, c, d in [(bx_red_val, RED, False), (bx_blue_val, BLUE, False), (bx_green_val, GREEN, False),
                (bx_orange_dash, ORANGE, True), (bx_orange_val, ORANGE, False),
                (bx_cyan_dash, CYAN, True), (bx_cyan_val, CYAN, False),
                (bx_mag_dash, MAG, True), (bx_mag_val, MAG, False),
                (bx_sky_dash, SKY, True), (bx_sky_val, SKY, False),
                (bx_yellow_dash, YELLOW, True), (bx_yellow_val, YELLOW, False)]:
    curve(ax, bx_age, v, c, d)

for ax, t in zip(bot_axes, titles):
    style(ax, (5.35, 95.35), [20, 40, 60, 80], (0, 300), range(0, 301, 50))
    ax.set_title(t, fontsize=13, fontweight="bold", pad=8, color="black")
bot_axes[0].set_ylabel("Loss  (thousands of USD)", fontsize=13, fontweight="bold")
bot_axes[0].yaxis.set_label_coords(-0.2, 0.5)
bot_axes[1].set_xlabel("Age  (yr)", fontsize=13, fontweight="bold", labelpad=8)

fig.savefig("out.png", dpi=100)
